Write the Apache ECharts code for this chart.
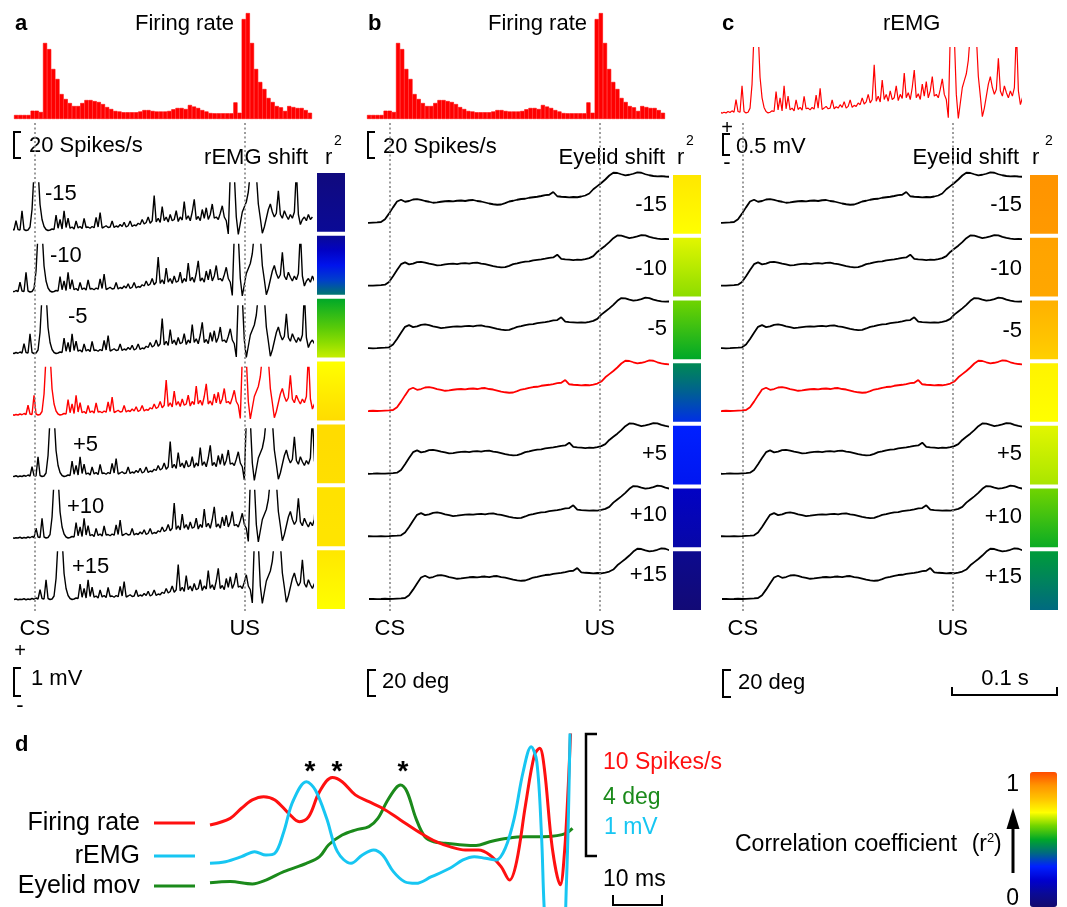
<!DOCTYPE html>
<html><head><meta charset="utf-8">
<script src="https://cdn.jsdelivr.net/npm/echarts@6/dist/echarts.min.js"></script>
<style>html,body{margin:0;padding:0;background:#fff}#chart{width:1067px;height:907px}</style>
</head><body><div id="chart"></div>
<script>
// ---------------- DATA ----------------
// Peri-stimulus firing-rate histogram (spikes/s), 72 bins across the trial window
const histBins = [3.1,3.1,3.1,3.1,6.4,6.4,5.4,58.5,53.8,38.5,30.8,19.2,15.4,12.3,10,10,12.3,14.6,14.6,13.8,
  13.1,11.5,9.2,7.7,6.2,5.8,5.2,5.2,5.2,5.2,5.8,6.9,6.9,6.2,5.8,5.8,5.8,6.2,7.5,8.5,
  8.5,7.7,10.8,9.6,8.5,6.9,5.8,4.6,4.4,4.4,4.4,4.4,4.4,12.8,4.8,76.9,81.5,58.5,38.5,28.5,
  23.1,16.2,13.1,10,9,6.2,10,9.2,8.5,8.5,6.9,4.8];
// rectified EMG (mV), sampled every 2.5 ms starting at -41 ms (CS onset = 0 ms)
const remgT0 = -41, remgDt = 2.5;
const remg = [0.06,0.08,0.05,0.07,0.06,0.09,0.05,0.08,0.06,0.1,
  0.07,0.12,0.08,0.45,0.1,0.08,0.85,0.1,0.06,0.08,
  0.2,0.9,2.4,2.6,2.5,1.1,0.5,0.22,0.1,0.06,
  0.08,0.12,0.1,0.68,0.15,0.5,0.12,0.85,0.18,0.55,
  0.15,0.2,0.12,0.44,0.16,0.22,0.14,0.54,0.18,0.2,
  0.15,0.22,0.17,0.58,0.2,0.78,0.16,0.2,0.25,0.18,
  0.2,0.44,0.18,0.24,0.2,0.3,0.22,0.39,0.2,0.25,
  0.44,0.22,0.28,0.25,0.35,0.3,0.5,0.32,0.38,0.6,
  0.35,0.45,1.46,0.4,0.55,0.38,1.02,0.45,0.6,0.4,
  0.7,0.45,0.5,0.85,0.42,0.6,0.48,1.22,0.5,0.65,
  0.45,0.8,1.31,0.5,0.62,0.45,0.9,0.55,0.97,0.5,
  0.7,1.12,0.55,0.6,0.5,0.75,1.05,0.6,0.45,-0.08,
  2.4,2.6,2.3,0.6,-0.1,0.35,0.8,1.0,1.2,1.6,
  2.4,2.6,2.5,2.3,1.12,0.55,-0.05,0.2,0.55,0.9,
  1.12,0.8,0.6,0.75,1.65,0.7,0.55,0.85,0.65,0.5,
  0.7,0.55,0.8,2.5,0.7,0.3,0.5,0.6,0.45,0.7,
  0.5,0.6];
// eyelid position (deg), sampled every 5 ms starting at -41 ms
const eyelidT0 = -41, eyelidDt = 5;
const eyelid = [0,0.1,-0.1,0,0.2,0,0.1,0.3,0.5,0.8,
  3.0,7.5,12.5,17.2,18.6,17.0,17.6,18.8,19.1,18.5,
  17.6,17.0,16.2,16.5,17.0,17.4,17.6,17.3,17.8,18.0,
  17.6,18.2,18.4,17.6,17.2,16.4,15.6,15.0,14.6,14.8,
  15.9,17.2,17.8,18.6,19.2,19.4,20.2,20.6,21.0,21.6,
  22.3,22.6,24.8,21.4,21.0,20.8,20.5,20.8,20.6,21.2,
  22.0,23.6,27.0,29.5,32.0,34.8,38.0,40.2,40.0,39.0,
  38.1,38.6,39.4,40.5,40.2,39.0,38.2,37.6,37.3,37.5,
  37.2,37.0];
const timeRange = [-26, 346];           // ms shown in panels a-c
const events = [{name:'CS', t:0}, {name:'US', t:262}];
const lags = [-15,-10,-5,0,5,10,15];     // ms shifts
// r^2 per shifted row: [value at top of cell, value at bottom of cell]
const r2RemgShiftA = [[0.04,0.1],[0.1,0.42],[0.5,0.66],[0.7,0.76],[0.76,0.755],[0.75,0.745],[0.74,0.7]];
const r2EyelidShiftB = [[0.74,0.7],[0.68,0.62],[0.6,0.5],[0.45,0.32],[0.3,0.27],[0.18,0.13],[0.08,0.02]];
const r2EyelidShiftC = [[0.9,0.89],[0.87,0.86],[0.84,0.78],[0.72,0.7],[0.68,0.64],[0.6,0.51],[0.48,0.4]];
// panel d: averaged traces vs time (ms)
const dFiring = [[0,7.01],[4.3,7.58],[6.7,8.44],[9.0,9.15],[11.4,9.43],[13.8,9.15],[16.7,8.01],[19.0,7.29],[21.0,7.72],[23.3,9.86],
  [26.0,11.06],[28.1,10.71],[30.9,9.58],[33.8,9.0],[36.7,8.44],[40.5,7.44],[44.3,6.44],[48.1,5.58],[51.0,5.16],[54.3,4.87],
  [57.1,4.87],[59.5,4.45],[61.9,3.45],[63.7,2.3],[65.2,3.87],[67.1,8.72],[69.0,13.0],[70.1,13.57],[71.1,11.86],[72.8,5.02],
  [74.5,1.9],[75.4,4.73],[76.2,10.43],[76.8,16]];
const dEmg = [[0,0.373],[3.3,0.387],[6.7,0.43],[9.5,0.473],[11.9,0.444],[13.8,0.459],[15.7,0.644],[17.6,0.9],[20.5,1.071],[22.4,1.0],
  [24.8,0.758],[27.1,0.473],[30.0,0.373],[32.4,0.444],[34.8,0.487],[36.7,0.444],[39.0,0.302],[41.4,0.216],[43.8,0.202],[47.1,0.259],
  [51.0,0.331],[53.8,0.402],[56.2,0.43],[58.6,0.416],[60.9,0.402],[62.8,0.502],[64.7,0.758],[66.6,1.156],[68.3,1.37],[69.5,1.242],
  [70.5,0.615],[71.2,-0.1],[72.5,-0.6],[74.5,-0.6],[75.8,0.2],[76.6,1.6]];
const dEyelid = [[0,0.83],[4.3,0.87],[9.0,0.79],[11.9,0.92],[15.7,1.21],[20.5,1.49],[23.3,1.72],[25.2,2.12],[28.1,2.46],[30.9,2.63],
  [33.8,2.75],[35.7,3.03],[37.6,3.6],[39.5,4.06],[40.5,4.17],[41.9,3.94],[43.8,3.03],[45.7,2.4],[47.6,2.23],[50.0,2.18],
  [53.8,2.12],[56.6,2.1],[59.5,2.23],[63.3,2.35],[67.1,2.4],[70.9,2.4],[73.8,2.44],[75.7,2.52],[77.1,2.69]];

// ---------------- STYLE / LAYOUT ----------------
const FONT = '"Liberation Sans", Arial, Helvetica, sans-serif';
const cmapColors = ['#140a6e','#0a0a96','#0000d0','#0020ff','#006a80','#00a828','#70d400','#ffff00','#ffc400','#ff9400','#ff4c00'];
function hex2rgb(h){return [parseInt(h.substr(1,2),16),parseInt(h.substr(3,2),16),parseInt(h.substr(5,2),16)];}
function cmap(v){
  v = Math.max(0, Math.min(1, v));
  const p = v*(cmapColors.length-1), i = Math.min(Math.floor(p), cmapColors.length-2), f = p-i;
  const a = hex2rgb(cmapColors[i]), b = hex2rgb(cmapColors[i+1]);
  return 'rgb('+a.map((c,k)=>Math.round(c+(b[k]-c)*f)).join(',')+')';
}
const grids=[], xAxes=[], yAxes=[], series=[];
function addGrid(rect, x, y){
  grids.push(rect); const gi = grids.length-1;
  xAxes.push(Object.assign({gridIndex:gi, show:false}, x));
  yAxes.push(Object.assign({gridIndex:gi, show:false, splitLine:{show:false}}, y));
  return gi;
}
const timeAxis = {type:'value', min:timeRange[0], max:timeRange[1], splitLine:{show:false}};
const panelLeft = {a:14, b:369, c:722}, panelW = 298;

// event (CS/US) dotted lines
['a','b','c'].forEach(p=>{
  const gi = addGrid({left:panelLeft[p], width:panelW, top:122, height:489}, timeAxis, {type:'value', min:0, max:1});
  series.push({type:'line', xAxisIndex:gi, yAxisIndex:gi, data:[[timeRange[0],0]], showSymbol:false, lineStyle:{opacity:0}, silent:true,
    markLine:{silent:true, symbol:['none','none'], animation:false,
      lineStyle:{color:'#858585', type:[2,2.5], width:1.6},
      label:{show:true, position:'start', distance:7, formatter:'{b}', color:'#000', fontSize:22, fontFamily:FONT},
      data: events.map(e=>({name:e.name, xAxis:e.t}))}});
});

// histograms (a, b)
[[14],[367]].forEach(([left])=>{
  const gi = addGrid({left:left, width:panelW, top:8.5, height:110.5},
    {type:'category', data:histBins.map((_,i)=>i), boundaryGap:true}, {type:'value', min:0, max:85});
  series.push({type:'bar', xAxisIndex:gi, yAxisIndex:gi, data:histBins, barCategoryGap:'0%', barWidth:'100%',
    itemStyle:{color:'#ff0000', borderColor:'#ff0000', borderWidth:0.6}, silent:true});
});

// panel c top: rEMG
{
  const gi = addGrid({left:panelLeft.c, width:panelW, top:47.7, height:71.4}, timeAxis, {type:'value', min:-0.12, max:1.96});
  series.push({type:'line', xAxisIndex:gi, yAxisIndex:gi, showSymbol:false, silent:true,
    data: remg.map((v,i)=>[remgT0+i*remgDt, v]), lineStyle:{color:'#ff0000', width:1.2}});
}

// panel a rows: shifted rEMG
lags.forEach((L,k)=>{
  const yb = 232 + 61.5*k;
  const gi = addGrid({left:panelLeft.a, width:panelW, top:yb-49, height:52}, timeAxis, {type:'value', min:-0.12, max:1.96});
  series.push({type:'line', xAxisIndex:gi, yAxisIndex:gi, showSymbol:false, silent:true,
    data: remg.map((v,i)=>[remgT0+i*remgDt+L, v]), lineStyle:{color: L===0?'#ff0000':'#000', width:1.4}});
});
// panels b, c rows: shifted eyelid
['b','c'].forEach(p=>{
  lags.forEach((L,k)=>{
    const yb = 223 + 62.67*k;
    const gi = addGrid({left:panelLeft[p], width:panelW, top:yb-52.5, height:55}, timeAxis, {type:'value', min:-2, max:42});
    series.push({type:'line', xAxisIndex:gi, yAxisIndex:gi, showSymbol:false, silent:true,
      data: eyelid.map((v,i)=>[eyelidT0+i*eyelidDt+L, v]), lineStyle:{color: L===0?'#ff0000':'#000', width:1.8}});
  });
});

// r^2 colour cells
function cellSeries(gi, r2){
  return {type:'custom', xAxisIndex:gi, yAxisIndex:gi, silent:true,
    data: lags.map((L,k)=>[0, L, r2[k][0], r2[k][1]]),
    renderItem(params, api){
      const L = api.value(1), a = api.value(2), b = api.value(3);
      const p0 = api.coord([0, L-2.5]), p1 = api.coord([1, L+2.5]);
      const top = Math.min(p0[1],p1[1])+2, bot = Math.max(p0[1],p1[1])-2;
      const stops = [0,0.25,0.5,0.75,1].map(o=>({offset:o, color:cmap(a+(b-a)*o)}));
      return {type:'rect', shape:{x:p0[0], y:top, width:p1[0]-p0[0], height:bot-top},
        style:{fill:new echarts.graphic.LinearGradient(0,0,0,1,stops)}};
    }};
}
const cellAxisY = {type:'value', min:-17.5, max:17.5, inverse:true};
const cellAxisX = {type:'value', min:0, max:1};
const cellA = addGrid({left:317, width:28, top:171, height:440}, cellAxisX, cellAxisY);
const cellSeriesIndex = series.length;
series.push(cellSeries(cellA, r2RemgShiftA));
series.push(cellSeries(addGrid({left:673, width:28, top:173, height:439}, cellAxisX, cellAxisY), r2EyelidShiftB));
series.push(cellSeries(addGrid({left:1030, width:28, top:173, height:439}, cellAxisX, cellAxisY), r2EyelidShiftC));

// panel d
{
  const gi = grids.length;
  grids.push({left:210, width:363, top:735, height:172});
  xAxes.push({gridIndex:gi, show:false, type:'value', min:0, max:77.2});
  yAxes.push({gridIndex:gi, show:false, type:'value', min:0, max:14.7});
  yAxes.push({gridIndex:gi, show:false, type:'value', min:0, max:1.47});
  yAxes.push({gridIndex:gi, show:false, type:'value', min:0, max:5.88});
  const yi = yAxes.length-3;
  const common = {type:'line', xAxisIndex:xAxes.length-1, showSymbol:false, smooth:0.35, silent:true};
  series.push(Object.assign({}, common, {yAxisIndex:yi+2, data:dEyelid, lineStyle:{color:'#1b8a1b', width:3}}));
  series.push(Object.assign({}, common, {yAxisIndex:yi, data:dFiring, lineStyle:{color:'#ff1010', width:3}}));
  series.push(Object.assign({}, common, {yAxisIndex:yi+1, data:dEmg, lineStyle:{color:'#17c6f2', width:3}}));
}

// ---------------- TEXT / ANNOTATIONS ----------------
const G = [];
function T(text, x, baseline, o){
  o = o||{}; const fs = o.fs||22;
  G.push({type:'text', x:x, y:baseline-0.35*fs, silent:true, style:{text:text, fill:o.color||'#000', fontSize:fs, fontFamily:FONT,
    fontWeight:o.bold?'bold':'normal', align:o.align||'left', verticalAlign:'middle'}});
}
function C(text, x, ymid, o){ // centred on glyph
  o = o||{}; const fs = o.fs||22;
  G.push({type:'text', x:x, y:ymid, silent:true, style:{text:text, fill:o.color||'#000', fontSize:fs, fontFamily:FONT,
    fontWeight:o.bold?'bold':'normal', align:o.align||'left', verticalAlign:'middle'}});
}
function PL(points, o){ o=o||{}; G.push({type:'polyline', silent:true, shape:{points:points}, style:{stroke:o.color||'#000', lineWidth:o.w||2, fill:null}}); }

// headers
T('a', 15, 32, {bold:true}); T('Firing rate', 135, 32);
T('b', 368, 32, {bold:true}); T('Firing rate', 488, 32);
T('c', 722, 32, {bold:true}); T('rEMG', 883, 32);
// spikes/s scales
PL([[21,132],[14,132],[14,158],[21,158]]); T('20 Spikes/s', 29, 154);
PL([[375,132],[368,132],[368,158],[375,158]]); T('20 Spikes/s', 383, 155);
C('+', 727, 128, {align:'center', fs:20}); PL([[730,134],[723,134],[723,155],[730,155]]); T('0.5 mV', 736, 155); C('-', 727, 163, {align:'center', fs:22});
// shift titles and r^2
T('rEMG shift', 308, 166, {align:'right'}); T('r', 325, 166); C('2', 334, 141, {fs:14});
T('Eyelid shift', 665, 166, {align:'right'}); T('r', 677, 166); C('2', 686, 141, {fs:14});
T('Eyelid shift', 1019, 166, {align:'right'}); T('r', 1032, 166); C('2', 1045, 141, {fs:14});
// row labels
const fmtLag = L => (L>0?'+':'')+L;
const labA = [[45,194],[50,256],[68,317],null,[73,445],[67,507],[72,567]];
const labB = [205,269,329,null,454,515,575], labC = [205,269,331,null,454,517,577];
lags.forEach((L,k)=>{
  if (labA[k]) C(fmtLag(L), labA[k][0], labA[k][1]);
  if (labB[k]) C(fmtLag(L), 667, labB[k], {align:'right'});
  if (labC[k]) C(fmtLag(L), 1022, labC[k], {align:'right'});
});
// bottom scale bars
C('+', 20, 651, {align:'center', fs:20}); PL([[21,668],[14,668],[14,696],[21,696]]); T('1 mV', 31, 687); C('-', 20, 706, {align:'center'});
PL([[376,670],[368,670],[368,696],[376,696]]); T('20 deg', 382, 690);
PL([[731,670],[723,670],[723,697],[731,697]]); T('20 deg', 738, 691);
PL([[952,687],[952,695],[1057,695],[1057,687]]); T('0.1 s', 1005, 687, {align:'center'});
// panel d
T('d', 15, 753, {bold:true});
T('Firing rate', 140, 832, {align:'right', fs:25}); T('rEMG', 140, 865, {align:'right', fs:25}); T('Eyelid mov', 140, 895, {align:'right', fs:25});
PL([[154,823],[195,823]], {color:'#ff1010', w:3}); PL([[154,856],[195,856]], {color:'#17c6f2', w:3}); PL([[154,886],[195,886]], {color:'#1b8a1b', w:3});
[310,337,403].forEach(x=>C('*', x, 772, {align:'center', bold:true, fs:28}));
PL([[597,734],[586,734],[586,856],[597,856]], {w:2.5});
T('10 Spikes/s', 603, 771, {fs:23, color:'#ff1010'}); T('4 deg', 603, 806, {fs:23, color:'#1b8a1b'}); T('1 mV', 604, 836, {fs:23, color:'#17c6f2'});
T('10 ms', 603, 888, {fs:23}); PL([[613,895],[613,905],[662,905],[662,895]]);
// correlation colour bar annotations
C('1', 1019, 785, {align:'right', fs:23}); C('0', 1019, 899, {align:'right', fs:23});
T('Correlation coefficient', 735, 853, {fs:23}); T('(r', 987, 853, {fs:23, align:'right'}); C('2', 987, 838, {fs:13}); T(')', 994, 853, {fs:23});
PL([[1013,873],[1013,826]], {w:3});
G.push({type:'polygon', silent:true, shape:{points:[[1013,808],[1006.5,829],[1019.5,829]]}, style:{fill:'#000'}});

const chart = echarts.init(document.getElementById('chart'), null, {renderer:'canvas'});
chart.setOption({
  animation:false, backgroundColor:'#fff',
  grid:grids, xAxis:xAxes, yAxis:yAxes, series:series,
  visualMap:[{type:'continuous', min:0, max:1, seriesIndex:cellSeriesIndex, dimension:2, orient:'vertical',
    left:1030, top:772, itemWidth:27, itemHeight:135, padding:0, calculable:false, hoverLink:false,
    inRange:{color:cmapColors}, text:null, textStyle:{fontSize:0}}],
  graphic:G
});
</script></body></html>
